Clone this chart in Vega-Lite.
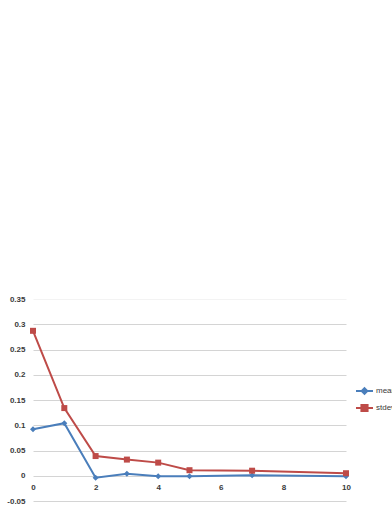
{
  "$schema": "https://vega.github.io/schema/vega-lite/v6.json",
  "width": 313,
  "height": 202,
  "autosize": "none",
  "padding": {"left": 33, "top": 299, "right": 46, "bottom": 7},
  "background": "white",
  "config": {
    "view": {"stroke": null},
    "font": "Liberation Sans",
    "axis": {"labelFont": "Liberation Sans", "labelFontSize": 8, "labelFontWeight": "bold", "labelColor": "#3a3a3a"},
    "legend": {"labelFont": "Liberation Sans", "labelFontSize": 8, "labelColor": "#3a3a3a"}
  },
  "data": {
    "values": [
      {"x": 0, "series": "mean", "value": 0.092},
      {"x": 1, "series": "mean", "value": 0.104},
      {"x": 2, "series": "mean", "value": -0.004},
      {"x": 3, "series": "mean", "value": 0.004},
      {"x": 4, "series": "mean", "value": -0.001},
      {"x": 5, "series": "mean", "value": -0.001},
      {"x": 7, "series": "mean", "value": 0.001},
      {"x": 10, "series": "mean", "value": -0.001},
      {"x": 0, "series": "stdev", "value": 0.287},
      {"x": 1, "series": "stdev", "value": 0.134},
      {"x": 2, "series": "stdev", "value": 0.039},
      {"x": 3, "series": "stdev", "value": 0.032},
      {"x": 4, "series": "stdev", "value": 0.026},
      {"x": 5, "series": "stdev", "value": 0.011},
      {"x": 7, "series": "stdev", "value": 0.01},
      {"x": 10, "series": "stdev", "value": 0.005}
    ]
  },
  "encoding": {
    "x": {
      "field": "x", "type": "quantitative",
      "scale": {"domain": [0, 10], "nice": false, "zero": false},
      "axis": {"title": null, "values": [0, 2, 4, 6, 8, 10], "grid": false, "domain": false, "ticks": false, "offset": -25.3, "labelPadding": 8, "labelFlush": false}
    },
    "y": {
      "field": "value", "type": "quantitative",
      "scale": {"domain": [-0.05, 0.35], "nice": false, "zero": false},
      "axis": {
        "title": null,
        "values": [-0.05, 0, 0.05, 0.1, 0.15, 0.2, 0.25, 0.3, 0.35],
        "labelExpr": "'' + datum.value",
        "domain": false, "ticks": false, "labelPadding": 8,
        "gridColor": {"condition": {"test": "datum.value == 0.35", "value": "#f3f3f3"}, "value": "#d4d4d4"},
        "gridWidth": 1
      }
    }
  },
  "layer": [
    {
      "mark": {"type": "line", "strokeWidth": 2},
      "encoding": {
        "color": {
          "field": "series", "type": "nominal",
          "scale": {"domain": ["mean", "stdev"], "range": ["#4a7ebb", "#be4b48"]},
          "legend": {
            "title": null, "orient": "none", "legendX": 322, "legendY": 82.5,
            "padding": 0, "rowPadding": -2, "labelOffset": 2, "symbolSize": 289,
            "encode": {
              "symbols": {
                "update": {
                  "shape": {"signal": "datum.label === 'mean' ? 'M-1,0H1M0,-0.33L0.33,0L0,0.33L-0.33,0Z' : 'M-1,0H1M-0.36,-0.36H0.36V0.36H-0.36Z'"},
                  "stroke": {"signal": "datum.label === 'mean' ? '#4a7ebb' : '#be4b48'"},
                  "fill": {"signal": "datum.label === 'mean' ? '#4a7ebb' : '#be4b48'"},
                  "strokeWidth": {"value": 2}
                }
              }
            }
          }
        }
      }
    },
    {
      "mark": {"type": "point", "filled": true, "opacity": 1, "size": 36},
      "encoding": {
        "color": {
          "field": "series", "type": "nominal",
          "scale": {"domain": ["mean", "stdev"], "range": ["#4a7ebb", "#be4b48"]},
          "legend": null
        },
        "shape": {"field": "series", "type": "nominal", "scale": {"domain": ["mean", "stdev"], "range": ["diamond", "square"]}, "legend": null}
      }
    }
  ],
  "resolve": {"scale": {"color": "independent"}, "legend": {"color": "independent"}}
}
